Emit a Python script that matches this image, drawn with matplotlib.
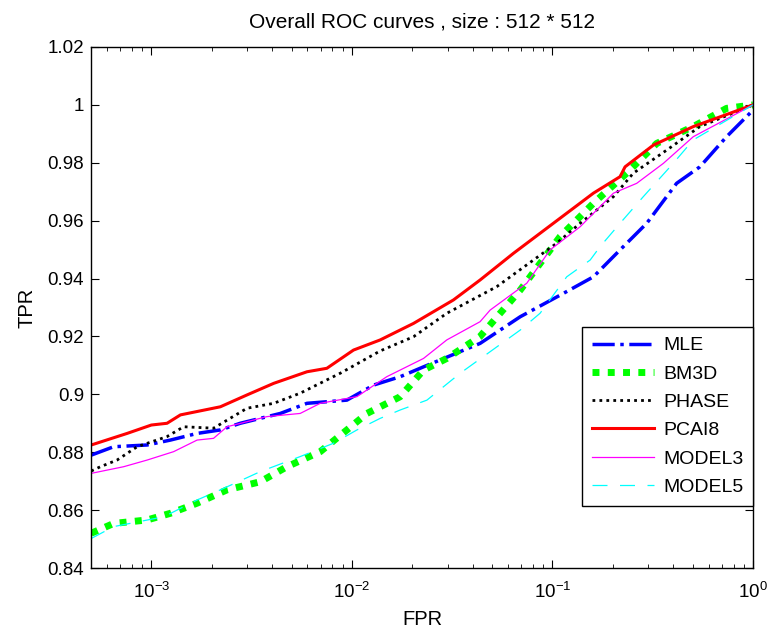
import numpy as np
import matplotlib
matplotlib.use("Agg")
import matplotlib.pyplot as plt

plt.rcParams['font.family'] = ['Liberation Sans', 'DejaVu Sans']
plt.rcParams['mathtext.fontset'] = 'custom'
plt.rcParams['mathtext.rm'] = 'Liberation Sans'
plt.rcParams['mathtext.it'] = 'Liberation Sans:italic'
plt.rcParams['mathtext.bf'] = 'Liberation Sans:bold'

# valeurs (log10 du FPR, TPR)
mle_lx = [-3.3, -3.188, -3.021, -2.905, -2.772, -2.656, -2.557, -2.357, -2.224, -2.025,
          -1.892, -1.759, -1.643, -1.361, -1.161, -0.945, -0.796, -0.663, -0.53, -0.381,
          -0.265, -0.132, 0.0]
mle_tpr = [0.879, 0.8819, 0.8825, 0.8842, 0.8865, 0.8877, 0.890, 0.8934, 0.8969, 0.898,
           0.9032, 0.9061, 0.9095, 0.9176, 0.9268, 0.9349, 0.9406, 0.9499, 0.9591, 0.9729,
           0.9786, 0.989, 0.9982]

bm3d_lx = [-3.3, -3.188, -3.021, -2.905, -2.772, -2.623, -2.457, -2.324, -2.158, -2.025,
           -1.925, -1.759, -1.643, -1.527, -1.361, -1.161, -0.962, -0.796, -0.63, -0.48,
           -0.298, -0.132, 0.0]
bm3d_tpr = [0.852, 0.8554, 0.8566, 0.8589, 0.8624, 0.867, 0.8698, 0.875, 0.8802, 0.8877,
            0.8934, 0.8992, 0.9084, 0.9124, 0.920, 0.936, 0.9545, 0.966, 0.9764, 0.9867,
            0.9925, 0.9988, 1.0]

phase_lx = [-3.3, -3.254, -3.171, -3.071, -2.922, -2.839, -2.69, -2.523, -2.39, -2.258,
            -2.058, -1.859, -1.693, -1.527, -1.278, -1.095, -0.979, -0.862, -0.696, -0.597,
            -0.43, -0.265, 0.0]
phase_tpr = [0.8735, 0.875, 0.8773, 0.8819, 0.8854, 0.8888, 0.8883, 0.8952, 0.8969, 0.9004,
             0.9073, 0.915, 0.9199, 0.928, 0.9372, 0.9464, 0.9522, 0.9591, 0.9683, 0.9764,
             0.9844, 0.9925, 1.0]

pcai8_lx = [-3.3, -3.121, -3.0, -2.922, -2.855, -2.656, -2.523, -2.39, -2.224, -2.125,
            -1.992, -1.859, -1.693, -1.494, -1.361, -1.195, -0.796, -0.663, -0.638, -0.497,
            -0.298, 0.0]
pcai8_tpr = [0.8825, 0.8865, 0.8894, 0.890, 0.8929, 0.8957, 0.8998, 0.9038, 0.9078, 0.909,
             0.9153, 0.9188, 0.9245, 0.9326, 0.9395, 0.9487, 0.9695, 0.9752, 0.9786, 0.9861,
             0.9925, 1.0]

model3_lx = [-3.3, -3.138, -3.021, -2.889, -2.772, -2.69, -2.623, -2.424, -2.258, -2.158,
             -1.975, -1.826, -1.643, -1.527, -1.361, -1.311, -1.128, -1.012, -0.862, -0.696,
             -0.58, -0.447, -0.298, 0.0]
model3_tpr = [0.8727, 0.875, 0.8773, 0.8802, 0.8842, 0.8848, 0.8888, 0.8923, 0.8934, 0.8969,
              0.8992, 0.9061, 0.9124, 0.9188, 0.9251, 0.9291, 0.9384, 0.9499, 0.9579, 0.9695,
              0.9729, 0.9798, 0.989, 1.0]

model5_lx = [-3.3, -3.188, -2.938, -2.772, -2.656, -2.457, -2.258, -2.092, -1.975, -1.859,
             -1.759, -1.626, -1.46, -1.161, -1.062, -0.929, -0.812, -0.763, -0.663, -0.547,
             -0.398, -0.298, 0.0]
model5_tpr = [0.8502, 0.8543, 0.8577, 0.8635, 0.867, 0.8733, 0.8785, 0.8831, 0.8877, 0.8917,
              0.8946, 0.898, 0.9073, 0.9222, 0.928, 0.9406, 0.9464, 0.951, 0.9591, 0.9683,
              0.9798, 0.9879, 1.0]

fig = plt.figure(figsize=(7.68, 6.3), dpi=100)
ax = fig.add_axes([0.1185, 0.0984, 0.862, 0.827])

ax.plot(10 ** np.array(mle_lx), mle_tpr, color='blue', linestyle='-.', lw=2.5, label='MLE')
ax.plot(10 ** np.array(bm3d_lx), bm3d_tpr, color=(0, 1, 0), linestyle=(0, (1, 1.2)), lw=5, label='BM3D')
ax.plot(10 ** np.array(phase_lx), phase_tpr, color='black', linestyle=(0, (1, 1.5)), lw=2, label='PHASE')
ax.plot(10 ** np.array(pcai8_lx), pcai8_tpr, color='red', linestyle='-', lw=2.2, label='PCAI8')
ax.plot(10 ** np.array(model3_lx), model3_tpr, color='magenta', linestyle='-', lw=0.9, label='MODEL3')
ax.plot(10 ** np.array(model5_lx), model5_tpr, color='cyan', linestyle=(0, (12, 10)), lw=0.9, label='MODEL5')

ax.set_xscale('log')
ax.set_xlim(5e-4, 1)
ax.set_ylim(0.84, 1.02)
yt = np.arange(0.84, 1.021, 0.02)
ax.set_yticks(yt)
ax.set_yticklabels(['%g' % round(v, 2) for v in yt])
ax.set_xticks([1e-3, 1e-2, 1e-1, 1])
ax.set_xticklabels([r'$10^{-3}$', r'$10^{-2}$', r'$10^{-1}$', r'$10^{0}$'])
ax.tick_params(which='both', direction='in', top=True, right=True, labelsize=13.5)
ax.tick_params(which='major', length=6, pad=5)
ax.tick_params(axis='x', which='major', pad=10)
ax.tick_params(which='minor', length=3)
for s in ax.spines.values():
    s.set_linewidth(1.0)

ax.set_title('Overall ROC curves , size : 512 * 512', fontsize=15, pad=14)
ax.set_xlabel('FPR', fontsize=14.5, labelpad=6)
ax.set_ylabel('TPR', fontsize=14.5, labelpad=8)

leg = ax.legend(loc='upper right', bbox_to_anchor=(1.0, 0.4626), fontsize=14,
                handlelength=3.2, handletextpad=0.45, fancybox=False, edgecolor='black',
                framealpha=1, borderaxespad=0, labelspacing=0.55, borderpad=0.5)
leg.get_frame().set_linewidth(1.0)

plt.savefig('out.png', dpi=100)
